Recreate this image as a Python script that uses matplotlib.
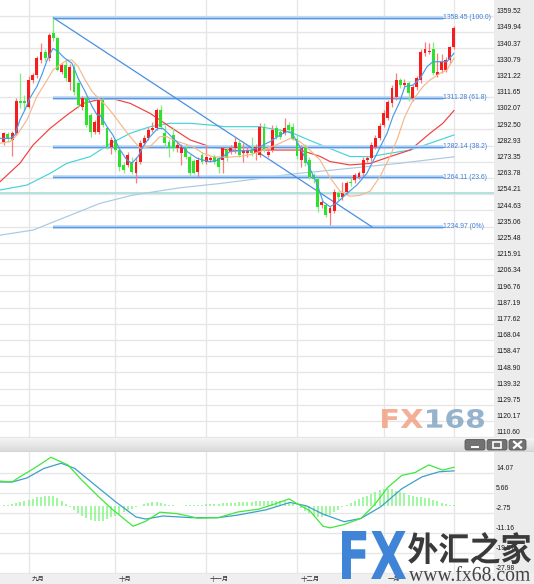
import matplotlib
matplotlib.use("Agg")
import matplotlib.pyplot as plt
import numpy as np
from matplotlib.patches import Rectangle, FancyBboxPatch, PathPatch
from matplotlib.textpath import TextPath
from matplotlib.font_manager import FontProperties
from matplotlib.transforms import Affine2D, blended_transform_factory
from matplotlib.colors import LinearSegmentedColormap

# 日K线 (2017-08-24 ~ 2018-01-24)
opens = [1285.3, 1290.0, 1286.3, 1290.2, 1309.5, 1309.5, 1306.0, 1321.7, 1324.7, 1333.5,
         1338.5, 1334.5, 1349.3, 1346.3, 1326.6, 1330.6, 1320.7, 1329.6, 1319.7, 1305.9,
         1310.9, 1301.0, 1291.2, 1291.2, 1309.9, 1293.1, 1282.3, 1286.3, 1280.3, 1271.5,
         1271.5, 1273.4, 1266.5, 1273.4, 1284.3, 1287.2, 1292.2, 1293.1, 1304.0, 1290.2,
         1285.3, 1289.0, 1281.3, 1278.4, 1281.3, 1276.4, 1274.0, 1267.5, 1277.4, 1273.4,
         1274.4, 1276.4, 1275.4, 1274.4, 1280.3, 1279.4, 1281.3, 1284.3, 1278.4, 1278.4,
         1280.3, 1278.4, 1277.4, 1294.1, 1277.4, 1280.3, 1293.1, 1291.2, 1290.2, 1295.1,
         1294.0, 1287.0, 1274.4, 1282.3, 1274.4, 1265.6, 1263.0, 1247.8, 1247.8, 1242.9,
         1244.0, 1254.7, 1252.8, 1255.7, 1261.6, 1262.6, 1264.6, 1266.5, 1274.4, 1275.4,
         1282.3, 1287.2, 1295.1, 1299.0, 1307.9, 1311.9, 1321.7, 1318.7, 1320.1, 1310.9,
         1317.8, 1321.7, 1337.9, 1338.4, 1339.8, 1324.7, 1327.6, 1327.6, 1333.5, 1341.4]
closes = [1290.2, 1286.6, 1290.6, 1309.5, 1308.0, 1308.0, 1321.7, 1324.7, 1334.5, 1338.5,
          1334.5, 1348.3, 1346.3, 1327.6, 1330.6, 1322.7, 1329.6, 1314.8, 1306.9, 1310.9,
          1295.1, 1291.2, 1297.1, 1309.9, 1295.1, 1282.3, 1286.3, 1280.3, 1270.5, 1268.5,
          1277.4, 1267.5, 1273.4, 1284.3, 1287.2, 1292.2, 1293.1, 1304.0, 1294.1, 1284.3,
          1281.3, 1281.3, 1283.3, 1282.3, 1276.4, 1266.5, 1267.0, 1274.4, 1273.4, 1276.4,
          1275.4, 1273.4, 1270.5, 1281.3, 1275.4, 1281.3, 1285.3, 1277.4, 1280.3, 1280.3,
          1278.4, 1282.3, 1294.1, 1280.3, 1279.4, 1292.2, 1288.2, 1288.2, 1293.1, 1292.2,
          1287.0, 1277.0, 1281.3, 1272.4, 1264.6, 1263.0, 1246.8, 1249.8, 1241.9, 1245.9,
          1255.7, 1252.8, 1254.7, 1260.6, 1260.6, 1265.6, 1266.5, 1274.4, 1275.4, 1283.3,
          1287.2, 1294.5, 1302.4, 1308.9, 1316.8, 1321.7, 1318.7, 1320.1, 1313.8, 1317.8,
          1322.7, 1338.4, 1339.8, 1339.0, 1325.6, 1326.6, 1332.5, 1333.5, 1341.4, 1352.2]
highs = [1291, 1291, 1291.5, 1311, 1325.6, 1312.8, 1324, 1326, 1336, 1343.8,
         1340, 1349.3, 1358.45, 1347, 1332, 1333.5, 1331, 1331, 1321, 1312,
         1312, 1302, 1298, 1311, 1311, 1294, 1288, 1287, 1281, 1273,
         1279.4, 1276, 1276, 1286, 1289, 1294.1, 1297, 1305, 1307, 1295,
         1287, 1294, 1285, 1284, 1283, 1278, 1275, 1276, 1279, 1283.3,
         1277, 1278, 1277, 1282, 1282, 1283, 1288.2, 1286, 1284.3, 1282,
         1288.2, 1284, 1296, 1296, 1281, 1295.1, 1295, 1293, 1299, 1297,
         1296, 1289, 1283, 1284, 1276, 1267, 1264, 1251, 1249, 1247,
         1257, 1256, 1261.6, 1262, 1264.6, 1267, 1268, 1276, 1277, 1285,
         1289, 1296, 1304, 1310, 1319, 1325.6, 1323, 1322, 1321, 1319,
         1324, 1340, 1344.4, 1343.4, 1344.4, 1337.5, 1337, 1335, 1342, 1353.5]
lows = [1283.3, 1285, 1276.8, 1289, 1305, 1304, 1305, 1320, 1323, 1332,
        1333, 1333, 1345, 1327, 1325, 1321, 1315.8, 1313, 1305, 1304,
        1294, 1288.2, 1290, 1290, 1294, 1281, 1278, 1279, 1268, 1267,
        1270, 1266, 1260.6, 1272, 1283, 1286, 1291, 1292, 1293, 1282,
        1276.4, 1280, 1279, 1271.5, 1275, 1265, 1266, 1264.6, 1272, 1272,
        1273, 1272, 1266.5, 1266.5, 1274, 1278, 1278.4, 1276, 1273.4, 1276.4,
        1277, 1274.4, 1276, 1279, 1276, 1279, 1287, 1287, 1289, 1291,
        1286, 1275, 1270.5, 1271, 1263, 1261, 1243.9, 1246, 1240.5, 1236.0,
        1243, 1251, 1251, 1254, 1259, 1261, 1263, 1265, 1273, 1274,
        1281, 1286, 1294, 1298, 1306, 1310, 1317, 1317, 1309, 1309,
        1316, 1320, 1336, 1337, 1324.5, 1323.5, 1326, 1326.5, 1332, 1340]

# 均线 (K线序号, 价格)
ma_fast_x = [-0.9, 1.5, 2.7, 3.9, 5.1, 6.3, 8.0, 9.2, 10.5, 11.9, 13.1, 14.8, 16.5, 18.0, 19.7, 21.4,
             22.6, 23.3, 25.0, 26.4, 28.0, 29.8, 31.0, 32.5, 33.7, 35.4, 37.3, 38.5, 39.8, 41.0, 42.7,
             44.4, 46.8, 48.2, 49.9, 51.9, 53.6, 54.8, 57.2, 59.6, 62.0, 64.5, 66.9, 68.6, 69.8, 71.7,
             74.1, 75.8, 77.3, 79.0, 80.7, 83.1, 85.5, 87.9, 90.4, 92.8, 94.2, 95.9, 97.1, 99.1, 100.8,
             102.5, 103.9, 105.6, 107.3, 109]
ma_fast_y = [1287.2, 1287.2, 1289.2, 1298.1, 1304, 1310.9, 1317.8, 1324.7, 1333.5, 1340.4, 1338.5,
             1334.5, 1331.6, 1322.7, 1314.8, 1306, 1301, 1301, 1294.1, 1289.2, 1281.0, 1274.4, 1272.5,
             1276.4, 1282.3, 1288.2, 1293.1, 1293.1, 1290.2, 1287.2, 1283.3, 1279.4, 1275.4, 1274.4,
             1273.4, 1274.4, 1277.4, 1279.4, 1280, 1280, 1282.3, 1285.3, 1289.2, 1291.2, 1290.2, 1282.3,
             1269.5, 1260.6, 1249.8, 1246.8, 1249.2, 1254.7, 1259.6, 1266.5, 1278.4, 1290.2, 1300,
             1308.9, 1317.8, 1318.7, 1322.7, 1329.6, 1332.5, 1332.5, 1332.5, 1337.5]
ma_mid_x = [-0.9, 1.5, 3.2, 5.6, 8.0, 10.5, 11.9, 13.6, 15.3, 16.5, 18.0, 19.7, 21.4, 23.3, 25.0,
            26.9, 28.1, 30.6, 33.0, 35.4, 37.8, 39.5, 41.0, 43.4, 45.8, 48.2, 50.6, 53.6, 57.0, 59.6,
            62.0, 66.9, 69.3, 71.7, 74.1, 76.6, 79.0, 81.4, 83.8, 86.2, 88.7, 91.1, 93.5, 95.2, 97.1,
            99.1, 101.5, 103.2, 105.6, 107.3, 109]
ma_mid_y = [1284.3, 1285.3, 1289.2, 1298.1, 1311.9, 1321.7, 1327.6, 1330.6, 1333.5, 1333.5, 1329.6,
            1321.7, 1314.8, 1309.9, 1306, 1300.1, 1296.1, 1288.2, 1281.3, 1282.3, 1288.2, 1288.2,
            1286.3, 1284.3, 1282.3, 1278.4, 1276.4, 1276.0, 1276.5, 1277.5, 1279.4, 1284.3, 1287.2,
            1285.3, 1280.3, 1274.4, 1264.0, 1256.0, 1253.0, 1253.5, 1256.0, 1264.6, 1276.4, 1286.3,
            1300, 1309.9, 1317.8, 1321.7, 1325.6, 1327.6, 1334.5]
ma_red_x = [-0.9, 3.9, 7.1, 11.2, 15.3, 19.2, 23.3, 26.9, 30.6, 35.4, 40.2, 45.1, 49.9, 53.6, 57.2,
            62.0, 66.9, 71.7, 74.1, 76.6, 79.0, 83.8, 88.7, 93.5, 98.4, 103.2, 106.3, 109]
ma_red_y = [1261.6, 1272.5, 1283.3, 1293.1, 1301, 1307.9, 1310.3, 1310.3, 1307.9, 1302, 1294.1, 1286.3,
            1282.3, 1280.7, 1279.9, 1280.3, 1280.3, 1280.3, 1278.5, 1276.5, 1273.5, 1271.5, 1272.4,
            1276.4, 1280.3, 1290.2, 1296.1, 1303.6]
ma_cyan_x = [-0.9, 5.6, 11.2, 15.3, 20.9, 25.7, 30.6, 35.4, 40.2, 45.1, 49.9, 53.6, 62.0, 69.3, 74.1,
             80.2, 83.8, 88.7, 93.5, 98.4, 103.2, 109]
ma_cyan_y = [1256.7, 1259.6, 1266.5, 1272.5, 1276.4, 1284.0, 1290.2, 1294.1, 1296.1, 1296.1, 1295.1,
             1294.1, 1294.1, 1291.0, 1286.0, 1280.0, 1276.5, 1276.4, 1278.4, 1280.3, 1284.3, 1289.2]
ma_long_x = [-0.9, 7.1, 15.3, 23.3, 31.3, 42.7, 52.3, 62.0, 69.3, 83.8, 95.9, 109]
ma_long_y = [1230, 1233, 1241, 1248.8, 1253.7, 1258, 1260.5, 1263.5, 1266, 1269.5, 1272.5, 1276.3]

# 斐波那契回撤
fib_levels = [1358.45, 1311.28, 1282.14, 1264.11, 1234.97]
fib_names = ["100.0", "61.8", "38.2", "23.6", "0%"]
trend_end_idx = 89.1
cross_level = 1254.7

# MACD
macd_x = [-0.9, 2.0, 3.9, 7.3, 11.4, 15.5, 18.9, 23.1, 26.2, 31.3, 34.4, 37.8, 41.9, 47.0, 51.9,
          56.7, 61.8, 65.0, 69.1, 70.8, 74.1, 77.3, 79.0, 82.4, 86.5, 89.9, 93.0, 96.4, 99.6, 102.9,
          106.3, 109]
macd_y = [10.5, 10.1, 12.3, 15.8, 20.5, 17.3, 10.9, 3.7, -1.3, -8.5, -6.4, -2.6, -3.2, -5.1, -4.9,
          -2.5, -1.3, 0.5, 3.0, 1.2, -2.0, -8.5, -9.2, -7.8, -5.2, 0.8, 7.9, 12.9, 14.1, 17.3, 15.1, 16.3]
signal_x = [-0.9, 2.0, 5.6, 9.7, 13.9, 17.2, 22.1, 27.2, 32.0, 34.4, 38.5, 45.3, 51.9, 56.7, 63.5,
            69.3, 73.2, 77.3, 82.4, 86.5, 91.3, 96.4, 101.3, 105.4, 109]
signal_y = [10.1, 10.1, 11.8, 15.8, 18.0, 15.8, 8.8, 1.6, -4.6, -5.5, -4.2, -4.9, -4.9, -3.8, -1.6,
            1.5, 0.1, -3.4, -6.6, -5.2, -0.3, 7.3, 12.3, 14.4, 14.8]
macd_hist = [0.3, 0.5, 0.8, 1.2, 1.6, 2.0, 2.5, 3.0, 3.6, 4.0, 4.3, 4.4, 4.2, 3.2, 2.0, 0.8, -0.5,
             -1.8, -3.0, -4.2, -5.2, -6.0, -6.4, -6.5, -6.2, -5.6, -4.8, -4.0, -3.2, -2.5, -1.8, -1.2,
             -0.6, 0.2, 0.8, 1.3, 1.6, 1.5, 1.2, 0.8, 0.5, 0.3, 0.2, 0.2, 0.3, 0.4, 0.5, 0.5, 0.6,
             0.7, 0.8, 0.9, 1.0, 1.1, 1.2, 1.3, 1.4, 1.5, 1.6, 1.7, 1.8, 1.9, 2.0, 2.1, 2.2, 2.3, 2.3,
             2.3, 2.0, 1.5, 0.8, 0.0, -1.0, -2.0, -3.0, -4.0, -4.6, -4.8, -4.4, -3.6, -2.6, -1.6, -0.6,
             0.4, 1.2, 2.0, 2.8, 3.6, 4.4, 5.2, 6.0, 6.6, 7.0, 7.2, 7.0, 6.5, 6.0, 5.4, 4.8, 4.2, 3.8,
             3.6, 3.4, 3.2, 2.6, 2.0, 1.2, 0.8, 0.6, 0.6]

# 坐标轴刻度
price_ticks = [1359.52, 1349.94, 1340.37, 1330.79, 1321.22, 1311.65, 1302.07, 1292.50, 1282.93,
               1273.35, 1263.78, 1254.21, 1244.63, 1235.06, 1225.48, 1215.91, 1206.34, 1196.76,
               1187.19, 1177.62, 1168.04, 1158.47, 1148.90, 1139.32, 1129.75, 1120.17, 1110.60]
macd_ticks = [14.07, 5.66, -2.75, -11.16, -19.57, -27.98]
month_names = ["九月", "十月", "十一月", "十二月", "一月"]
month_idx = [6, 27, 49, 71, 92]

W, H = 534, 584
fig = plt.figure(figsize=(W / 100, H / 100), dpi=100)
fig.patch.set_facecolor("white")

# 右侧价格栏灰底
fig.add_artist(Rectangle((494 / W, 0), 40 / W, 1, transform=fig.transFigure,
                         facecolor="#ececec", edgecolor="none", zorder=-1))
fig.add_artist(Rectangle((0, 0), 1, 10.5 / H, transform=fig.transFigure,
                         facecolor="#efefef", edgecolor="none", zorder=-1))

n = len(closes)
idx = np.arange(n)
xlim = (-0.92, 118.7)
grid_c = "#e6e6e6"
lab_font = dict(family="Liberation Sans", fontsize=4.9, color="#1a1a1a")

# ---------- 主图 ----------
ax = fig.add_axes([0, 1 - 437.5 / H, 494 / W, 437.5 / H])
ax.set_xlim(*xlim)
ax.set_ylim(1110.4, 1368.98)
ax.set_axis_off()
for v in price_ticks:
    ax.axhline(v, color=grid_c, lw=1, zorder=0)
for m in month_idx + [n - 1]:
    ax.axvline(m, color=grid_c, lw=1, zorder=0)

bt = blended_transform_factory(ax.transAxes, ax.transData)
for v in price_ticks:
    ax.text(1.0 + 2 / 494, v + 0.5, f"{v:.2f}", transform=bt, ha="left", va="bottom",
            clip_on=False, **lab_font)

ax.axhline(cross_level, color="#9edbd5", lw=1.1, zorder=1)

# 均线
ax.plot(ma_long_x, ma_long_y, color="#a9c9e2", lw=0.85, zorder=2)
ax.plot(ma_cyan_x, ma_cyan_y, color="#45d3da", lw=0.85, zorder=2)
ax.plot(ma_red_x, ma_red_y, color="#f04040", lw=0.85, zorder=2)

# 斐波那契线
peak = int(np.argmax(highs))
for lv, nm in zip(fib_levels, fib_names):
    ax.plot([peak, 106.3], [lv, lv], color="#b9d6f6", lw=2.6, zorder=3, solid_capstyle="butt")
    ax.plot([peak, 106.3], [lv, lv], color="#5b98e0", lw=0.9, zorder=3)
    ax.text(106.4, lv, f"{lv:.2f} ({nm})", ha="left", va="center", family="Liberation Sans",
            fontsize=4.9, color="#3d7ddb", zorder=4)
ax.plot([peak, trend_end_idx], [fib_levels[0], fib_levels[-1]], color="#4b8fe2", lw=0.9, zorder=3)

# K线
for i in range(n):
    o, c = opens[i], closes[i]
    up = c >= o
    body = "#f51d1d" if up else "#2fe02f"
    wick = "#ff7a7a" if up else "#7fee7f"
    ax.vlines(i, lows[i], highs[i], color=wick, lw=0.9, zorder=5)
    ax.bar(i, max(abs(c - o), 0.6), bottom=min(o, c), width=0.7, color=body, zorder=6)

ax.plot(ma_mid_x, ma_mid_y, color="#f2b88e", lw=0.85, zorder=7)
ax.plot(ma_fast_x, ma_fast_y, color="#4a9be9", lw=0.85, zorder=7)

# ---------- MACD ----------
ax2 = fig.add_axes([0, 10.5 / H, 494 / W, 121.5 / H])
ax2.set_xlim(*xlim)
ax2.set_ylim(-28.4, 22.73)
ax2.set_axis_off()
for v in macd_ticks:
    ax2.axhline(v, color=grid_c, lw=1, zorder=0)
for m in month_idx + [n - 1]:
    ax2.axvline(m, color=grid_c, lw=1, zorder=0)
bt2 = blended_transform_factory(ax2.transAxes, ax2.transData)
for v in macd_ticks:
    ax2.text(1.0 + 2 / 494, v + 0.3, f"{v:.2f}", transform=bt2, ha="left", va="bottom",
             clip_on=False, **lab_font)
ax2.vlines(idx, 0, macd_hist, color="#86f586", lw=1.1, zorder=2)
ax2.plot(signal_x, signal_y, color="#3f9fc9", lw=0.9, zorder=3)
ax2.plot(macd_x, macd_y, color="#3ee83e", lw=0.9, zorder=4)

bt3 = blended_transform_factory(ax2.transData, ax2.transAxes)
for m, name in zip(month_idx, month_names):
    ax2.text(m + 0.85, -5.3 / 121.5, name, transform=bt3, ha="left", va="center",
             family=["Noto Sans CJK SC", "DejaVu Sans"], fontsize=4.6, color="#333333",
             clip_on=False)

# ---------- 工具栏 ----------
axb = fig.add_axes([0, 1 - 452 / H, 1, 14.5 / H])
axb.set_axis_off()
grad = np.linspace(0, 1, 30).reshape(-1, 1)
cm = LinearSegmentedColormap.from_list("bar", ["#f6f6f6", "#d9d9d9"])
axb.imshow(grad, aspect="auto", cmap=cm, extent=[0, W, 452, 437.5])
axb.set_xlim(0, W)
axb.set_ylim(452, 437.5)
axb.axhline(451.5, color="#c4c4c4", lw=1)
for x0, x1 in [(465, 485), (487, 507), (509, 526)]:
    axb.add_patch(FancyBboxPatch((x0, 439.5), x1 - x0, 10.5, boxstyle="round,pad=0,rounding_size=2",
                                 facecolor="#727272", edgecolor="#5a5a5a", lw=0.6))
axb.plot([472, 478], [447.2, 447.2], color="white", lw=1.4)
axb.add_patch(Rectangle((493, 441.8), 8, 6, facecolor="none", edgecolor="white", lw=1.2))
axb.plot([514, 521], [441.8, 447.8], color="white", lw=1.6)
axb.plot([514, 521], [447.8, 441.8], color="white", lw=1.6)


# ---------- 水印 ----------
def text_box(s, x0, y0, x1, y1, color, family="DejaVu Sans", weight="bold", alpha=1.0):
    tp = TextPath((0, 0), s, size=10, prop=FontProperties(family=family, weight=weight))
    ext = tp.get_extents()
    tr = (Affine2D().translate(-ext.x0, -ext.y0)
          .scale((x1 - x0) / ext.width, (y1 - y0) / ext.height)
          .translate(x0, H - y1)
          .scale(1 / W, 1 / H) + fig.transFigure)
    fig.add_artist(PathPatch(tp, transform=tr, facecolor=color, edgecolor="none",
                             alpha=alpha, zorder=10))


text_box("FX", 382, 409, 423, 428, "#f2a285", alpha=0.85)
text_box("168", 427, 409, 484, 428, "#84a6c5", alpha=0.85)
text_box("FX", 342, 531, 406, 579, "#3f84d6")
text_box("外汇之家", 408, 532, 531, 564, "#3a3a3a", family="Noto Sans CJK SC")
text_box("www.fx68.com", 409, 566, 530, 581, "#444444", family="Liberation Serif", weight="normal")

fig.savefig("out.png", dpi=100)
print("saved out.png")
